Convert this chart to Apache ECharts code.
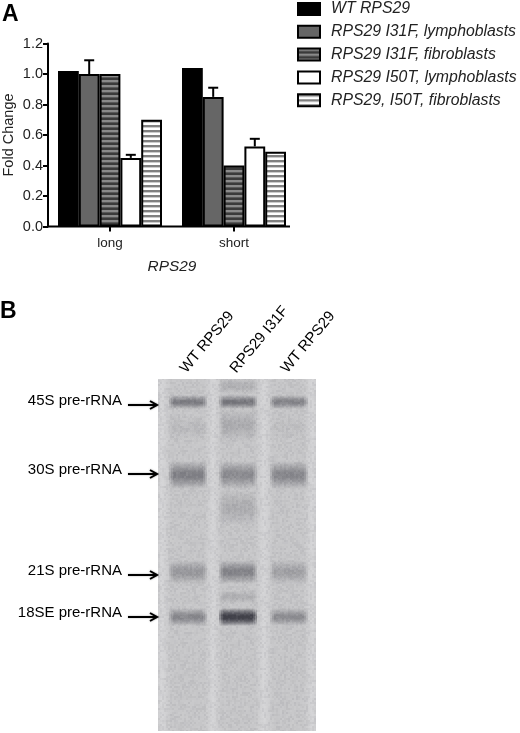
<!DOCTYPE html>
<html><head><meta charset="utf-8">
<style>html,body{margin:0;padding:0;background:#fff}#c{width:520px;height:733px}</style>
<script src="https://cdn.jsdelivr.net/npm/echarts@6/dist/echarts.min.js"></script>
</head><body><div id="c"></div>
<script>
// ---------- Panel A data ----------
const categories = ['long', 'short'];
const yTicks = [0, 1.2, 0.2];
const seriesNames = ['WT RPS29', 'RPS29 I31F, lymphoblasts', 'RPS29 I31F, fibroblasts', 'RPS29 I50T, lymphoblasts', 'RPS29, I50T, fibroblasts'];
const wtValues = [1.02, 1.04];
const i31fLymphoValues = [1.00, 0.85];
const i31fFibroValues = [1.00, 0.40];
const i50tLymphoValues = [0.45, 0.525];
const i50tFibroValues = [0.70, 0.49];
const i31fLymphoErrorTop = [1.09, 0.91];
const i50tLymphoErrorTop = [0.47, 0.575];

// ---------- Panel B data ----------
const laneNames = ['WT RPS29', 'RPS29 I31F', 'WT RPS29'];
const laneCentres = [188, 238, 289];
const rnaNames = ['45S pre-rRNA', '30S pre-rRNA', '21S pre-rRNA', '18SE pre-rRNA'];
const rnaArrowY = [405, 474, 575, 617];
const rnaBandY = [402, 475, 572, 617];
const rnaBandH = [14, 28, 24, 18];
const lane1Intensity = [0.42, 0.38, 0.24, 0.34];
const lane2Intensity = [0.46, 0.32, 0.36, 0.95];
const lane3Intensity = [0.36, 0.34, 0.19, 0.3];
// faint smears: [lane index, y, height, intensity]
const smears = [[0, 428, 26, 0.05], [1, 425, 34, 0.12], [1, 508, 36, 0.12], [2, 428, 24, 0.03], [1, 597, 14, 0.1], [1, 386, 16, 0.1]];

// ---------- Textures ----------
function stripes(bg, line) {
  const c = document.createElement('canvas'); c.width = 4; c.height = 5;
  const g = c.getContext('2d');
  g.fillStyle = bg; g.fillRect(0, 0, 4, 5);
  g.fillStyle = line; g.fillRect(0, 0, 4, 2.4);
  return { image: c, repeat: 'repeat' };
}
function grain() {
  const n = 96, c = document.createElement('canvas'); c.width = c.height = n * 2;
  const g = c.getContext('2d');
  for (let y = 0; y < n; y++) for (let x = 0; x < n; x++) {
    const h = Math.abs(Math.sin(x * 12.9898 + y * 78.233) * 43758.5453) % 1;
    g.fillStyle = h > 0.5 ? 'rgba(255,255,255,' + ((h - 0.5) * 0.16).toFixed(3) + ')' : 'rgba(40,40,50,' + ((0.5 - h) * 0.12).toFixed(3) + ')';
    g.fillRect(x * 2, y * 2, 2, 2);
  }
  return { image: c, repeat: 'repeat' };
}

const border = { borderColor: '#000', borderWidth: 2 };
const barStyles = [
  { color: '#000', ...border },
  { color: '#666', ...border },
  { color: stripes('#3a3a3a', '#8a8a8a'), ...border },
  { color: '#fff', ...border },
  { color: stripes('#fff', '#808080'), ...border }
];
const barValues = [wtValues, i31fLymphoValues, i31fFibroValues, i50tLymphoValues, i50tFibroValues];

const FONT = '"Liberation Sans", Arial, sans-serif';
const barSeries = seriesNames.map((name, i) => ({
  name, type: 'bar', data: barValues[i], barWidth: 20.8, barGap: 0,
  itemStyle: barStyles[i], xAxisIndex: 0, yAxisIndex: 0, z: 3
}));

function errorSeries(seriesIndex, values, tops) {
  return {
    type: 'custom', xAxisIndex: 0, yAxisIndex: 0, z: 2, silent: true,
    data: categories.map((_, i) => [i, values[i], tops[i]]),
    encode: { x: 0, y: [1, 2] },
    renderItem(params, api) {
      const base = api.coord([api.value(0), api.value(1)]);
      const top = api.coord([api.value(0), api.value(2)]);
      const x = base[0] + (seriesIndex - 2) * 20.8;
      const st = { stroke: '#000', lineWidth: 2, fill: 'none' };
      return { type: 'group', children: [
        { type: 'line', shape: { x1: x, y1: base[1], x2: x, y2: top[1] }, style: st },
        { type: 'line', shape: { x1: x - 5, y1: top[1], x2: x + 5, y2: top[1] }, style: st }
      ] };
    }
  };
}

// ---------- Gel ----------
const gelAxes = { xAxisIndex: 1, yAxisIndex: 1, silent: true };
const gelBackground = {
  type: 'custom', ...gelAxes, z: 1, data: [0],
  renderItem(params) {
    const s = params.coordSys;
    return { type: 'rect', shape: { x: s.x, y: s.y, width: s.width, height: s.height }, style: { fill: '#c6c6c8' } };
  }
};
const gapLight = {
  type: 'custom', ...gelAxes, z: 2, clip: true,
  data: [[213], [264], [162], [312]],
  renderItem(params, api) {
    const s = params.coordSys, x = api.coord([api.value(0), 0])[0];
    return { type: 'rect', shape: { x: x - 9, y: s.y, width: 18, height: s.height },
      style: { fill: new echarts.graphic.LinearGradient(0, 0, 1, 0, [
        { offset: 0, color: 'rgba(218,218,220,0)' }, { offset: 0.5, color: 'rgba(218,218,220,.7)' }, { offset: 1, color: 'rgba(218,218,220,0)' }]) } };
  }
};
const intensities = [lane1Intensity, lane2Intensity, lane3Intensity];
const bandData = [];
intensities.forEach((arr, l) => arr.forEach((v, b) => bandData.push([laneCentres[l], rnaBandY[b], rnaBandH[b], v])));
smears.forEach(s => bandData.push([laneCentres[s[0]], s[1], s[2], s[3]]));
const gelBands = {
  type: 'custom', ...gelAxes, z: 3, clip: true,
  data: bandData,
  renderItem(params, api) {
    const p = api.coord([api.value(0), api.value(1)]);
    const h = api.value(2), a = api.value(3);
    const children = [38, 34, 30].map(w => {
      const c = 'rgba(30,30,40,' + (a * 0.42).toFixed(3) + ')', z = 'rgba(30,30,40,0)';
      return { type: 'rect', shape: { x: p[0] - w / 2, y: p[1] - h / 2, width: w, height: h },
        style: { fill: new echarts.graphic.LinearGradient(0, 0, 0, 1, [
          { offset: 0, color: z }, { offset: 0.42, color: c }, { offset: 0.58, color: c }, { offset: 1, color: z }]) } };
    });
    return { type: 'group', children };
  }
};
const grainFill = grain();
const gelGrain = {
  type: 'custom', ...gelAxes, z: 4, data: [0],
  renderItem(params) {
    const s = params.coordSys;
    return { type: 'rect', shape: { x: s.x, y: s.y, width: s.width, height: s.height }, style: { fill: grainFill } };
  }
};
const laneLabels = {
  type: 'custom', ...gelAxes, z: 5,
  data: laneNames.map((n, i) => [laneCentres[i], n]),
  renderItem(params, api) {
    const p = api.coord([api.value(0), 379]);
    return { type: 'text', x: p[0] - 5, y: p[1] - 8, rotation: 50 * Math.PI / 180,
      style: { text: laneNames[params.dataIndex], fill: '#000', font: '15px ' + FONT, textAlign: 'left', textVerticalAlign: 'middle' } };
  }
};
const arrowLabels = {
  type: 'custom', ...gelAxes, z: 5,
  data: rnaNames.map((n, i) => [158, rnaArrowY[i]]),
  renderItem(params, api) {
    const p = api.coord([api.value(0), api.value(1)]);
    const st = { stroke: '#000', lineWidth: 2, fill: 'none', shadowBlur: 2, shadowColor: 'rgba(0,0,0,.35)' };
    return { type: 'group', children: [
      { type: 'text', x: p[0] - 36, y: p[1] - 4,
        style: { text: rnaNames[params.dataIndex], fill: '#000', font: '15px ' + FONT, textAlign: 'right', textVerticalAlign: 'middle' } },
      { type: 'line', shape: { x1: p[0] - 30, y1: p[1], x2: p[0] - 1, y2: p[1] }, style: st },
      { type: 'polyline', shape: { points: [[p[0] - 8, p[1] - 4], [p[0] - 1, p[1]], [p[0] - 8, p[1] + 4]] }, style: st }
    ] };
  }
};

const chart = echarts.init(document.getElementById('c'), null, { renderer: 'canvas', width: 520, height: 733 });
chart.setOption({
  animation: false,
  backgroundColor: '#fff',
  textStyle: { fontFamily: FONT },
  title: [
    { text: 'A', left: 2, top: 3, padding: 0, textStyle: { fontFamily: FONT, fontSize: 23, fontWeight: 'bold', color: '#000' } },
    { text: 'B', left: 0, top: 300, padding: 0, textStyle: { fontFamily: FONT, fontSize: 23, fontWeight: 'bold', color: '#000' } }
  ],
  legend: {
    data: seriesNames, orient: 'vertical', left: 297, top: 1, padding: 0,
    icon: 'rect', itemWidth: 22, itemHeight: 12, itemGap: 6.8, selectedMode: false,
    textStyle: { fontFamily: FONT, fontStyle: 'italic', fontSize: 15.8, lineHeight: 12, color: '#222', padding: [0, 0, 0, 6] }
  },
  grid: [
    { left: 48, width: 248, top: 43.5, height: 183 },
    { left: 158, width: 158, top: 379, height: 352 }
  ],
  xAxis: [
    { type: 'category', data: categories, gridIndex: 0,
      axisLine: { show: false },
      axisTick: { show: true, alignWithLabel: true, length: 5, lineStyle: { color: '#000', width: 2 } },
      axisLabel: { color: '#222', fontSize: 13.5, margin: 10 },
      name: 'RPS29', nameLocation: 'middle', nameGap: 33,
      nameTextStyle: { fontStyle: 'italic', fontSize: 15.4, color: '#222', align: 'center' } },
    { type: 'value', gridIndex: 1, min: 158, max: 316, show: false }
  ],
  yAxis: [
    { type: 'value', gridIndex: 0, min: yTicks[0], max: yTicks[1], interval: yTicks[2],
      splitLine: { show: false },
      axisLine: { show: true, lineStyle: { color: '#000', width: 2 } },
      axisTick: { show: true, length: 5, lineStyle: { color: '#000', width: 2 } },
      axisLabel: { color: '#222', fontSize: 14.5, margin: 5, formatter: v => v.toFixed(1) },
      name: 'Fold Change', nameLocation: 'middle', nameGap: 32, nameRotate: 90,
      nameTextStyle: { fontSize: 14.5, color: '#222' } },
    { type: 'value', gridIndex: 1, min: 379, max: 731, inverse: true, show: false }
  ],
  graphic: [{ type: 'line', z: 100, shape: { x1: 47, y1: 226.5, x2: 290, y2: 226.5 }, style: { stroke: '#000', lineWidth: 2 } }],
  series: [
    ...barSeries,
    errorSeries(1, i31fLymphoValues, i31fLymphoErrorTop),
    errorSeries(3, i50tLymphoValues, i50tLymphoErrorTop),
    gelBackground, gapLight, gelBands, gelGrain, laneLabels, arrowLabels
  ]
});
</script></body></html>
